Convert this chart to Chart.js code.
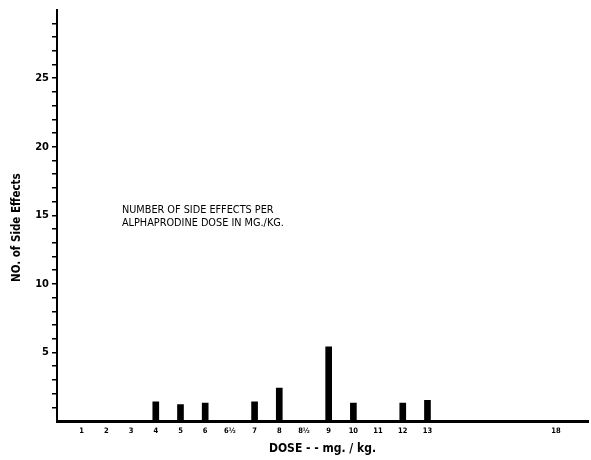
<!DOCTYPE html>
<html>
<head>
<meta charset="utf-8">
<script src="https://cdn.jsdelivr.net/npm/chart.js@4.4.1/dist/chart.umd.min.js"></script>
<style>
  html, body { margin: 0; padding: 0; background: #fff; }
  #myChart { display: block; }
</style>
</head>
<body>
<canvas id="myChart" width="591" height="460"></canvas>
<script>
// dose labels along the x axis, and the slot each one sits in
var doseLabels = ['1', '2', '3', '4', '5', '6', '6\u00bd', '7', '8', '8\u00bd', '9', '10', '11', '12', '13', '18'];
var doseSlots = [1, 2, 3, 4, 5, 6, 7, 8, 9, 10, 11, 12, 13, 14, 15, 20.2];

// bars: dose (label) and number of side effects
var barDoses = ['4', '5', '6', '7', '8', '9', '10', '12', '13'];
var sideEffects = [1.4, 1.2, 1.3, 1.4, 2.4, 5.4, 1.3, 1.3, 1.5];

var yLabelled = [5, 10, 15, 20, 25];

var noteLines = ['NUMBER OF SIDE EFFECTS PER', 'ALPHAPRODINE DOSE IN MG./KG.'];
var yTitle = 'NO. of Side Effects';

var narrow = '"DejaVu Sans Condensed", "DejaVu Sans", sans-serif';

var barData = [];
for (var i = 0; i < barDoses.length; i++) {
	barData.push({ x: doseSlots[doseLabels.indexOf(barDoses[i])], y: sideEffects[i] });
}

var textPlugin = {
	id: 'texts',
	afterDraw: function(chart) {
		var c = chart.ctx;
		var x = chart.scales.x.getPixelForValue(2.63);
		var y = chart.scales.y.getPixelForValue(15.8);
		c.save();
		c.fillStyle = '#000';
		c.font = 'condensed 10.8px ' + narrow;
		c.textBaseline = 'top';
		c.textAlign = 'left';
		for (var i = 0; i < noteLines.length; i++) {
			c.fillText(noteLines[i], x, y + i * 13.5);
		}
		// y axis title, placed as in the original (a bit below the axis middle)
		c.translate(17, chart.scales.y.getPixelForValue(14.1));
		c.rotate(-Math.PI / 2);
		c.textAlign = 'center';
		c.textBaseline = 'middle';
		c.font = 'condensed bold 11.5px ' + narrow;
		c.fillText(yTitle, 0, 0);
		c.restore();
	}
};

var ctx = document.getElementById('myChart');
var myChart = new Chart(ctx, {
	type: 'bar',
	data: {
		datasets: [{
			data: barData,
			backgroundColor: '#000',
			borderWidth: 0,
			barThickness: 6
		}]
	},
	plugins: [textPlugin],
	options: {
		responsive: false,
		animation: false,
		layout: { padding: { top: 8, right: 3, left: 0, bottom: 0 } },
		plugins: {
			legend: { display: false },
			tooltip: { enabled: false }
		},
		scales: {
			x: {
				type: 'linear',
				offset: false,
				min: 0,
				max: 21.5,
				afterFit: function(scale) { scale.height = 39; },
				afterBuildTicks: function(scale) {
					scale.ticks = doseSlots.map(function(v) { return { value: v }; });
				},
				grid: { display: true, drawOnChartArea: false, drawTicks: false },
				border: { display: true, color: '#000', width: 3 },
				ticks: {
					padding: 6,
					autoSkip: false,
					maxRotation: 0,
					color: '#000',
					font: { family: narrow, style: 'condensed', size: 7.5, weight: 'bold' },
					callback: function(v) {
						var k = doseSlots.indexOf(v);
						return k >= 0 ? doseLabels[k] : '';
					}
				},
				title: {
					display: true,
					text: 'DOSE - - mg. / kg.',
					color: '#000',
					font: { family: narrow, style: 'condensed', size: 12, weight: 'bold' },
					padding: { top: 0, bottom: 4 }
				}
			},
			y: {
				min: 0,
				max: 30,
				afterFit: function(scale) { scale.width = 57; },
				afterBuildTicks: function(scale) {
					var t = [];
					for (var v = 1; v < 30; v++) t.push({ value: v });
					scale.ticks = t;
				},
				grid: { display: true, drawOnChartArea: false, drawTicks: true, tickLength: 5, color: '#000', lineWidth: 1.5 },
				border: { display: true, color: '#000', width: 2 },
				ticks: {
					padding: 3,
					color: '#000',
					autoSkip: false,
					font: { family: narrow, style: 'condensed', size: 11, weight: 'bold' },
					callback: function(v) {
						return yLabelled.indexOf(v) >= 0 ? String(v) : '';
					}
				},
				title: { display: false }
			}
		}
	}
});
</script>
</body>
</html>
